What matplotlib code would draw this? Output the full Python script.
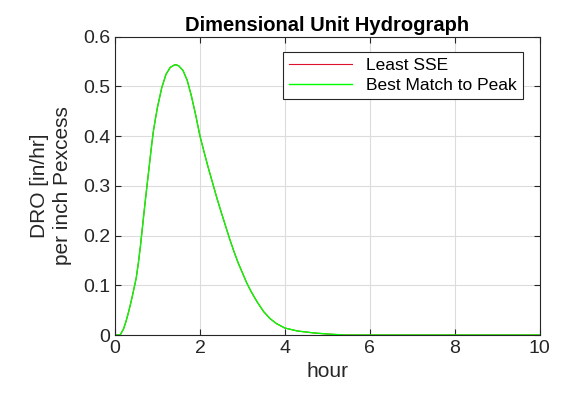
import matplotlib.pyplot as plt

plt.rcParams['font.family'] = ['Liberation Sans', 'DejaVu Sans']

# values (hour, DRO per inch Pexcess)
hours = [0, 0.12, 0.2, 0.25, 0.3, 0.35, 0.4, 0.45, 0.5, 0.55, 0.6, 0.65, 0.7,
         0.75, 0.8, 0.85, 0.9, 0.95, 1.0, 1.1, 1.2, 1.3, 1.4, 1.45, 1.5, 1.6,
         1.7, 1.8, 1.9, 2.0, 2.1, 2.2, 2.3, 2.4, 2.5, 2.6, 2.7, 2.8, 2.9, 3.0,
         3.1, 3.2, 3.35, 3.5, 3.65, 3.8, 4.0, 4.3, 4.7, 5.0, 5.4, 6, 7, 8, 9, 10]
least_sse = [0, 0, 0.012, 0.025, 0.04, 0.057, 0.075, 0.095, 0.115, 0.145,
             0.18, 0.22, 0.26, 0.298, 0.335, 0.373, 0.408, 0.434, 0.458, 0.497,
             0.524, 0.538, 0.543, 0.543, 0.541, 0.532, 0.512, 0.48, 0.442,
             0.40, 0.367, 0.335, 0.305, 0.275, 0.247, 0.22, 0.193, 0.168, 0.145,
             0.125, 0.105, 0.088, 0.066, 0.047, 0.033, 0.023, 0.014, 0.008,
             0.004, 0.002, 0.0, 0, 0, 0, 0, 0]
best_peak = list(least_sse)

fig = plt.figure(figsize=(5.7, 3.99), dpi=100)
ax = fig.add_axes([0.2018, 0.1604, 0.745, 0.748])

ax.plot(hours, least_sse, color='#e0102c', lw=0.8, label='Least SSE')
ax.plot(hours, best_peak, color='#00ff00', lw=1.0, label='Best Match to Peak')

ax.set_xlim(0, 10)
ax.set_ylim(0, 0.6)
ax.set_xticks([0, 2, 4, 6, 8, 10])
ax.set_yticks([0, 0.1, 0.2, 0.3, 0.4, 0.5, 0.6])
ax.set_yticklabels(['0', '0.1', '0.2', '0.3', '0.4', '0.5', '0.6'])
ax.grid(True, color='#dcdcdc', lw=0.8)
ax.set_axisbelow(True)
ax.tick_params(direction='in', top=True, right=True, labelsize=14, length=4,
               colors='#262626')
for s in ax.spines.values():
    s.set_color('#262626')
    s.set_linewidth(0.8)

ax.set_xlabel('hour', fontsize=15, color='#262626')
ax.set_ylabel('DRO [in/hr]\nper inch Pexcess', fontsize=15, color='#262626',
              linespacing=1.25, labelpad=8)
ax.set_title('Dimensional Unit Hydrograph', fontsize=14.5, fontweight='bold', pad=4)

leg = ax.legend(loc='upper right', fontsize=12.5, fancybox=False, framealpha=1,
                edgecolor='#262626', handlelength=3.6, borderpad=0.35,
                labelspacing=0.3, bbox_to_anchor=(0.98, 0.978))
leg.get_frame().set_linewidth(0.8)

fig.savefig('out.png', dpi=100)
